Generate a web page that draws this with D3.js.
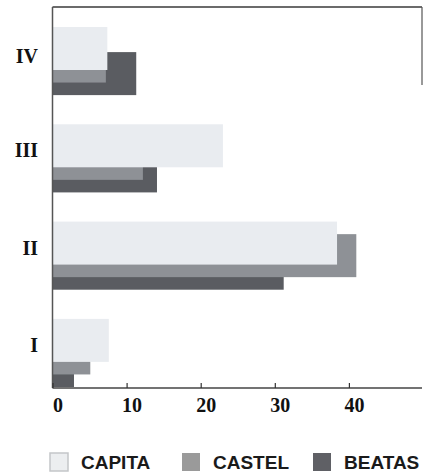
<!DOCTYPE html>
<html>
<head>
<meta charset="utf-8">
<script src="https://cdn.jsdelivr.net/npm/d3@7"></script>
<style>
  html, body { margin: 0; padding: 0; background: #fff; }
  svg { display: block; }
</style>
</head>
<body>
<svg id="chart" width="423" height="474"></svg>
<script>
// Quarters, top to bottom
const categories = ["IV", "III", "II", "I"];
// Series names (front to back)
const seriesNames = ["CAPITA", "CASTEL", "BEATAS"];
// Values per quarter, in the order of `categories`
const capita = [7.4, 23.0, 38.4, 7.6];
const castel = [7.2, 12.2, 41.0, 5.1];
const beatas = [11.3, 14.1, 31.2, 2.9];
const tickValues = [0, 10, 20, 30, 40];

const seriesValues = [capita, castel, beatas];
const fills = ["#e9ecf0", "#8e9196", "#5a5c61"];
const legendFills = ["#eceef0", "#9a9a9a", "#5f6065"];

const svg = d3.select("#chart");
const plotLeft = 52.5, plotRight = 423, plotTop = 7, plotBottom = 388;

const x = d3.scaleLinear().domain([0, 50]).range([plotLeft, plotRight]);
const y = d3.scaleBand().domain(categories).range([27, 387])
  .paddingInner(0.3).paddingOuter(0);

const barH = 43;
const shift = (y.bandwidth() - barH) / 2;

// Bars: back series first so the front series overlaps it
const g = svg.append("g");
for (let s = seriesNames.length - 1; s >= 0; s--) {
  g.selectAll(null)
    .data(categories.map((c, i) => ({ c, v: seriesValues[s][i] })))
    .join("rect")
    .attr("x", x(0))
    .attr("y", d => y(d.c) + s * shift)
    .attr("width", d => x(d.v) - x(0))
    .attr("height", barH)
    .attr("fill", fills[s]);
}

// Frame lines
svg.append("line").attr("x1", plotLeft).attr("x2", 422).attr("y1", plotTop).attr("y2", plotTop)
  .attr("stroke", "#3a3a3a").attr("stroke-width", 1.5);
svg.append("line").attr("x1", 422).attr("x2", 422).attr("y1", plotTop).attr("y2", 85)
  .attr("stroke", "#555").attr("stroke-width", 1.2);
svg.append("line").attr("x1", plotLeft).attr("x2", plotLeft).attr("y1", plotTop).attr("y2", plotBottom)
  .attr("stroke", "#555").attr("stroke-width", 1.5);

// Bottom axis with short upward ticks
const xAxis = d3.axisBottom(x).tickValues(tickValues)
  .tickSizeInner(-5).tickSizeOuter(0).tickPadding(10)
  .tickFormat(d3.format("d"));
const ax = svg.append("g").attr("transform", `translate(0,${plotBottom})`).call(xAxis);
ax.select(".domain").attr("d", `M${plotLeft},0H422`).attr("stroke", "#444").attr("stroke-width", 1.5);
ax.selectAll(".tick line").attr("stroke", "#333").attr("stroke-width", 1.2);
ax.selectAll(".tick text")
  .attr("dx", 5)
  .attr("fill", "#111")
  .style("font-family", "'Liberation Serif', 'DejaVu Serif', serif")
  .style("font-weight", "bold")
  .style("font-size", "20px");

// Category labels
svg.append("g").selectAll("text")
  .data(categories)
  .join("text")
  .attr("x", 38)
  .attr("y", (d, i) => y(d) + (i === 0 ? 29 : 26))
  .attr("text-anchor", "end")
  .attr("dominant-baseline", "central")
  .attr("fill", "#111")
  .style("font-family", "'Liberation Serif', 'DejaVu Serif', serif")
  .style("font-weight", "bold")
  .style("font-size", "20px")
  .text(d => d);

// Legend
const legendX = [50, 182, 313];
const lg = svg.append("g").selectAll("g")
  .data(seriesNames)
  .join("g")
  .attr("transform", (d, i) => `translate(${legendX[i]},453)`);
lg.append("rect")
  .attr("width", 18).attr("height", 18)
  .attr("fill", (d, i) => legendFills[i])
  .attr("stroke", (d, i) => i === 0 ? "#c4c6c9" : "none")
  .attr("stroke-width", 1.5);
lg.append("text")
  .attr("x", 31).attr("y", 16)
  .attr("fill", "#1a1a1a")
  .style("font-family", "'Liberation Sans', Arial, sans-serif")
  .style("font-weight", "bold")
  .style("font-size", "19px")
  .text(d => d);
</script>
</body>
</html>
